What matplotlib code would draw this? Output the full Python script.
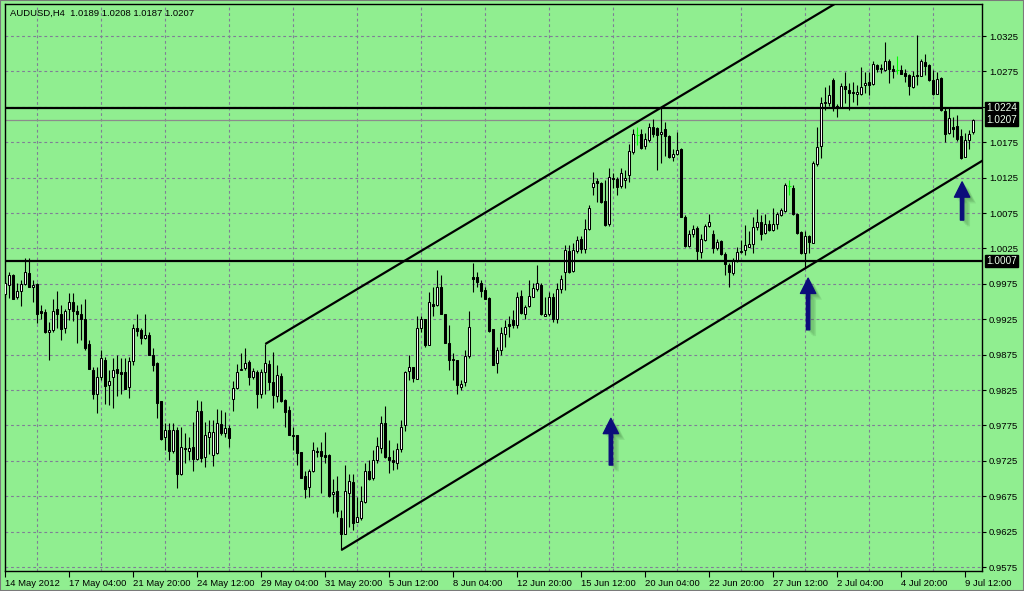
import matplotlib
matplotlib.use("Agg")
import matplotlib.pyplot as plt
import matplotlib.transforms as mtransforms
import matplotlib.patheffects as pe
import numpy as np

# ---------------------------------------------------------
# Data: AUDUSD H4 candles, 14 May 2012 -> 9 Jul 2012
# ---------------------------------------------------------
opens = [
    0.9960, 0.9974, 0.9987, 0.9957, 0.9965, 0.9975, 0.9990, 0.9970, 0.9975, 0.9936,
    0.9935, 0.9907, 0.9910, 0.9939, 0.9933, 0.9912, 0.9939, 0.9950, 0.9937, 0.9933,
    0.9926, 0.9890, 0.9853, 0.9820, 0.9843, 0.9868, 0.9832, 0.9843, 0.9854, 0.9850,
    0.9850, 0.9829, 0.9866, 0.9912, 0.9910, 0.9899, 0.9903, 0.9874, 0.9863, 0.9809,
    0.9758, 0.9769, 0.9739, 0.9768, 0.9707, 0.9743, 0.9739, 0.9744, 0.9727, 0.9795,
    0.9730, 0.9759, 0.9733, 0.9736, 0.9777, 0.9764, 0.9771, 0.9813, 0.9828, 0.9853,
    0.9856, 0.9865, 0.9843, 0.9850, 0.9819, 0.9851, 0.9862, 0.9836, 0.9817, 0.9845,
    0.9811, 0.9797, 0.9761, 0.9761, 0.9738, 0.9703, 0.9688, 0.9711, 0.9739, 0.9739,
    0.9733, 0.9733, 0.9678, 0.9683, 0.9644, 0.9621, 0.9680, 0.9695, 0.9638, 0.9644,
    0.9667, 0.9710, 0.9701, 0.9726, 0.9743, 0.9778, 0.9731, 0.9726, 0.9722, 0.9742,
    0.9775, 0.9852, 0.9857, 0.9841, 0.9913, 0.9925, 0.9889, 0.9946, 0.9945, 0.9970,
    0.9932, 0.9892, 0.9869, 0.9867, 0.9829, 0.9836, 0.9873, 0.9984, 0.9984, 0.9976,
    0.9966, 0.9955, 0.9911, 0.9863, 0.9882, 0.9904, 0.9918, 0.9924, 0.9917, 0.9958,
    0.9933, 0.9943, 0.9957, 0.9967, 0.9974, 0.9930, 0.9933, 0.9956, 0.9925, 0.9967,
    0.9992, 1.0022, 0.9993, 1.0022, 1.0038, 1.0024, 1.0052, 1.0112, 1.0120, 1.0117,
    1.0092, 1.0059, 1.0125, 1.0123, 1.0113, 1.0122, 1.0129, 1.0161, 1.0185, 1.0186,
    1.0169, 1.0178, 1.0197, 1.0195, 1.0186, 1.0193, 1.0184, 1.0154, 1.0159, 1.0165,
    1.0070, 1.0029, 1.0046, 1.0054, 1.0020, 1.0037, 1.0056, 1.0045, 1.0025, 1.0035,
    1.0017, 1.0001, 0.9990, 1.0009, 1.0020, 1.0023, 1.0027, 1.0031, 1.0055, 1.0062,
    1.0047, 1.0060, 1.0051, 1.0060, 1.0072, 1.0078, 1.0113, 1.0111, 1.0073, 1.0048,
    1.0019, 1.0042, 1.0033, 1.0144, 1.0169, 1.0231, 1.0231, 1.0263, 1.0226, 1.0224,
    1.0254, 1.0249, 1.0246, 1.0243, 1.0243, 1.0256, 1.0260, 1.0257, 1.0284, 1.0280,
    1.0277, 1.0290, 1.0278, 1.0277, 1.0277, 1.0273, 1.0270, 1.0253, 1.0270, 1.0269,
    1.0288, 1.0284, 1.0263, 1.0243, 1.0265, 1.0219, 1.0188, 1.0197, 1.0198, 1.0184,
    1.0154, 1.0178, 1.0189,
]
highs = [
    0.9986, 0.9991, 0.9989, 0.9976, 0.9980, 1.0012, 1.0011, 0.9980, 0.9976, 0.9945,
    0.9940, 0.9921, 0.9954, 0.9965, 0.9945, 0.9940, 0.9962, 0.9962, 0.9945, 0.9947,
    0.9954, 0.9896, 0.9858, 0.9858, 0.9882, 0.9872, 0.9853, 0.9870, 0.9875, 0.9870,
    0.9870, 0.9871, 0.9918, 0.9933, 0.9912, 0.9933, 0.9907, 0.9884, 0.9865, 0.9809,
    0.9778, 0.9778, 0.9778, 0.9773, 0.9773, 0.9764, 0.9759, 0.9780, 0.9811, 0.9809,
    0.9780, 0.9783, 0.9783, 0.9798, 0.9797, 0.9794, 0.9776, 0.9838, 0.9862, 0.9877,
    0.9885, 0.9867, 0.9856, 0.9853, 0.9855, 0.9890, 0.9867, 0.9878, 0.9860, 0.9849,
    0.9813, 0.9802, 0.9773, 0.9762, 0.9738, 0.9710, 0.9714, 0.9752, 0.9745, 0.9751,
    0.9766, 0.9734, 0.9700, 0.9703, 0.9656, 0.9719, 0.9707, 0.9707, 0.9674, 0.9689,
    0.9722, 0.9726, 0.9740, 0.9759, 0.9788, 0.9802, 0.9754, 0.9740, 0.9750, 0.9783,
    0.9852, 0.9874, 0.9858, 0.9929, 0.9929, 0.9926, 0.9964, 0.9971, 0.9994, 0.9987,
    0.9933, 0.9917, 0.9877, 0.9867, 0.9839, 0.9881, 0.9937, 1.0004, 0.9992, 0.9980,
    0.9971, 0.9957, 0.9911, 0.9886, 0.9914, 0.9924, 0.9929, 0.9938, 0.9964, 0.9966,
    0.9945, 0.9980, 0.9976, 1.0002, 0.9976, 0.9957, 0.9964, 0.9962, 0.9976, 0.9987,
    1.0030, 1.0030, 1.0032, 1.0042, 1.0042, 1.0067, 1.0086, 1.0133, 1.0124, 1.0119,
    1.0122, 1.0138, 1.0131, 1.0126, 1.0138, 1.0136, 1.0173, 1.0194, 1.0197, 1.0193,
    1.0188, 1.0202, 1.0208, 1.0197, 1.0224, 1.0203, 1.0185, 1.0166, 1.0190, 1.0167,
    1.0072, 1.0051, 1.0058, 1.0056, 1.0046, 1.0060, 1.0074, 1.0051, 1.0038, 1.0037,
    1.0020, 1.0004, 1.0011, 1.0027, 1.0037, 1.0058, 1.0049, 1.0069, 1.0081, 1.0072,
    1.0073, 1.0065, 1.0082, 1.0077, 1.0082, 1.0117, 1.0122, 1.0115, 1.0075, 1.0049,
    1.0049, 1.0044, 1.0148, 1.0197, 1.0239, 1.0253, 1.0256, 1.0265, 1.0229, 1.0258,
    1.0274, 1.0258, 1.0260, 1.0256, 1.0281, 1.0274, 1.0274, 1.0289, 1.0286, 1.0286,
    1.0317, 1.0293, 1.0284, 1.0297, 1.0284, 1.0279, 1.0272, 1.0275, 1.0326, 1.0293,
    1.0300, 1.0286, 1.0277, 1.0274, 1.0267, 1.0223, 1.0225, 1.0211, 1.0213, 1.0194,
    1.0188, 1.0192, 1.0208,
]
lows = [
    0.9957, 0.9955, 0.9953, 0.9954, 0.9943, 0.9974, 0.9970, 0.9950, 0.9919, 0.9926,
    0.9905, 0.9868, 0.9907, 0.9912, 0.9896, 0.9905, 0.9924, 0.9922, 0.9892, 0.9896,
    0.9881, 0.9854, 0.9812, 0.9793, 0.9839, 0.9805, 0.9804, 0.9800, 0.9817, 0.9819,
    0.9827, 0.9814, 0.9860, 0.9902, 0.9890, 0.9897, 0.9874, 0.9852, 0.9786, 0.9754,
    0.9740, 0.9726, 0.9736, 0.9687, 0.9705, 0.9722, 0.9726, 0.9710, 0.9726, 0.9724,
    0.9716, 0.9734, 0.9717, 0.9734, 0.9761, 0.9759, 0.9744, 0.9796, 0.9827, 0.9853,
    0.9853, 0.9832, 0.9840, 0.9800, 0.9814, 0.9820, 0.9825, 0.9799, 0.9808, 0.9808,
    0.9773, 0.9761, 0.9740, 0.9719, 0.9701, 0.9672, 0.9674, 0.9709, 0.9731, 0.9680,
    0.9722, 0.9674, 0.9651, 0.9645, 0.9599, 0.9621, 0.9632, 0.9627, 0.9638, 0.9641,
    0.9665, 0.9698, 0.9698, 0.9722, 0.9736, 0.9729, 0.9708, 0.9712, 0.9714, 0.9738,
    0.9767, 0.9839, 0.9837, 0.9841, 0.9907, 0.9886, 0.9889, 0.9929, 0.9944, 0.9933,
    0.9891, 0.9853, 0.9839, 0.9819, 0.9825, 0.9830, 0.9870, 0.9964, 0.9971, 0.9957,
    0.9953, 0.9907, 0.9861, 0.9849, 0.9874, 0.9886, 0.9900, 0.9912, 0.9912, 0.9933,
    0.9926, 0.9942, 0.9957, 0.9965, 0.9931, 0.9929, 0.9929, 0.9921, 0.9919, 0.9962,
    0.9966, 0.9990, 0.9991, 1.0019, 1.0019, 1.0019, 1.0051, 1.0100, 1.0091, 1.0089,
    1.0056, 1.0056, 1.0110, 1.0100, 1.0111, 1.0110, 1.0119, 1.0159, 1.0171, 1.0166,
    1.0166, 1.0176, 1.0183, 1.0136, 1.0145, 1.0155, 1.0152, 1.0148, 1.0157, 1.0069,
    1.0027, 1.0027, 1.0041, 1.0007, 1.0011, 1.0036, 1.0055, 1.0018, 1.0023, 1.0016,
    0.9987, 0.9971, 0.9987, 1.0006, 1.0018, 1.0016, 1.0027, 1.0018, 1.0051, 1.0037,
    1.0046, 1.0049, 1.0049, 1.0053, 1.0071, 1.0077, 1.0100, 1.0072, 1.0046, 1.0017,
    0.9997, 1.0018, 1.0032, 1.0142, 1.0153, 1.0220, 1.0226, 1.0219, 1.0210, 1.0223,
    1.0230, 1.0221, 1.0232, 1.0227, 1.0242, 1.0244, 1.0242, 1.0256, 1.0274, 1.0273,
    1.0275, 1.0258, 1.0265, 1.0272, 1.0271, 1.0260, 1.0242, 1.0252, 1.0256, 1.0268,
    1.0270, 1.0262, 1.0242, 1.0243, 1.0219, 1.0176, 1.0186, 1.0182, 1.0177, 1.0151,
    1.0154, 1.0165, 1.0187,
]
closes = [
    0.9976, 0.9988, 0.9954, 0.9965, 0.9975, 0.9991, 0.9970, 0.9974, 0.9932, 0.9934,
    0.9907, 0.9910, 0.9937, 0.9932, 0.9911, 0.9937, 0.9949, 0.9937, 0.9932, 0.9926,
    0.9885, 0.9854, 0.9819, 0.9844, 0.9870, 0.9831, 0.9838, 0.9853, 0.9849, 0.9848,
    0.9827, 0.9866, 0.9913, 0.9908, 0.9899, 0.9903, 0.9875, 0.9861, 0.9807, 0.9756,
    0.9769, 0.9739, 0.9769, 0.9706, 0.9744, 0.9742, 0.9743, 0.9728, 0.9796, 0.9729,
    0.9761, 0.9766, 0.9766, 0.9778, 0.9765, 0.9772, 0.9757, 0.9828, 0.9851, 0.9855,
    0.9863, 0.9844, 0.9852, 0.9820, 0.9850, 0.9863, 0.9837, 0.9818, 0.9846, 0.9810,
    0.9794, 0.9761, 0.9760, 0.9736, 0.9701, 0.9685, 0.9711, 0.9740, 0.9737, 0.9732,
    0.9731, 0.9676, 0.9681, 0.9654, 0.9622, 0.9683, 0.9696, 0.9637, 0.9646, 0.9668,
    0.9710, 0.9700, 0.9726, 0.9746, 0.9778, 0.9730, 0.9726, 0.9723, 0.9742, 0.9773,
    0.9850, 0.9857, 0.9842, 0.9912, 0.9926, 0.9889, 0.9949, 0.9944, 0.9970, 0.9933,
    0.9892, 0.9868, 0.9867, 0.9832, 0.9834, 0.9873, 0.9914, 0.9982, 0.9977, 0.9965,
    0.9954, 0.9908, 0.9861, 0.9882, 0.9905, 0.9914, 0.9916, 0.9917, 0.9956, 0.9934,
    0.9942, 0.9958, 0.9969, 0.9976, 0.9932, 0.9933, 0.9957, 0.9926, 0.9967, 0.9982,
    1.0023, 0.9992, 1.0023, 1.0037, 1.0024, 1.0052, 1.0082, 1.0118, 1.0118, 1.0090,
    1.0058, 1.0126, 1.0123, 1.0112, 1.0132, 1.0124, 1.0162, 1.0186, 1.0185, 1.0167,
    1.0179, 1.0196, 1.0186, 1.0185, 1.0190, 1.0184, 1.0154, 1.0158, 1.0164, 1.0069,
    1.0029, 1.0045, 1.0052, 1.0021, 1.0038, 1.0056, 1.0062, 1.0025, 1.0034, 1.0017,
    1.0003, 0.9991, 1.0009, 1.0020, 1.0022, 1.0030, 1.0031, 1.0055, 1.0063, 1.0045,
    1.0060, 1.0051, 1.0059, 1.0073, 1.0079, 1.0115, 1.0113, 1.0073, 1.0047, 1.0018,
    1.0042, 1.0034, 1.0145, 1.0168, 1.0231, 1.0232, 1.0242, 1.0225, 1.0224, 1.0254,
    1.0250, 1.0245, 1.0244, 1.0246, 1.0253, 1.0259, 1.0256, 1.0285, 1.0279, 1.0278,
    1.0289, 1.0278, 1.0276, 1.0277, 1.0272, 1.0268, 1.0254, 1.0269, 1.0268, 1.0289,
    1.0283, 1.0263, 1.0243, 1.0264, 1.0220, 1.0187, 1.0209, 1.0194, 1.0180, 1.0152,
    1.0178, 1.0186, 1.0207,
]
# doji candles (open == close) drawn in lime like the terminal does
doji_idx = [158, 196, 223]

time_labels = ["14 May 2012", "17 May 04:00", "21 May 20:00", "24 May 12:00",
               "29 May 04:00", "31 May 20:00", "5 Jun 12:00", "8 Jun 04:00",
               "12 Jun 20:00", "15 Jun 12:00", "20 Jun 04:00", "22 Jun 20:00",
               "27 Jun 12:00", "2 Jul 04:00", "4 Jul 20:00", "9 Jul 12:00"]
label_step = 16

price_ticks = [0.9575, 0.9625, 0.9675, 0.9725, 0.9775, 0.9825, 0.9875, 0.9925,
               0.9975, 1.0025, 1.0075, 1.0125, 1.0175, 1.0225, 1.0275, 1.0325]

support_level = 1.0007
resist_level = 1.0224

# channel anchors: (candle index, price)
upper_anchor = [(65, 0.9890), (164, 1.0224)]
lower_anchor = [(84, 0.9599), (200, 0.9997)]

# arrows: candle index, tail price, tip price
arrow_x = [151.4, 200.7, 239.2]
arrow_tail = [0.9719, 0.9910, 1.0065]
arrow_tip = [0.9785, 0.9983, 1.0119]

# ---------------------------------------------------------
# Figure setup
# ---------------------------------------------------------
BG = "#90ee90"
GRID = "#7f7f96"
FONT = "Liberation Sans"
FS = 6.8

fig = plt.figure(figsize=(10.24, 5.91), dpi=100, facecolor=BG)
W, H = 1024, 591
ax = fig.add_axes([5 / W, (H - 571) / H, 977 / W, 567 / H], facecolor=BG)

n = len(opens)
idx = np.arange(n)
o = np.array(opens)
c = np.array(closes)
h = np.array(highs)
l = np.array(lows)

# ---------------------------------------------------------
# Candles
# ---------------------------------------------------------
normal = np.array([i not in doji_idx for i in idx])
ax.vlines(idx[normal], l[normal], h[normal], color="black", lw=0.8, zorder=3)

up = (c >= o) & normal
dn = (c < o) & normal
ax.bar(idx[up], c[up] - o[up], bottom=o[up], width=0.5,
       facecolor="white", edgecolor="black", lw=0.75, zorder=4)
ax.bar(idx[dn], o[dn] - c[dn], bottom=c[dn], width=0.5,
       facecolor="black", edgecolor="black", lw=0.75, zorder=4)

for i in doji_idx:
    ax.vlines(i, lows[i], highs[i], color="#00ff00", lw=0.8, zorder=4)
    ax.hlines(opens[i], i - 0.4, i + 0.4, color="#00ff00", lw=0.8, zorder=4)

# ---------------------------------------------------------
# Levels and channel
# ---------------------------------------------------------
ax.axhline(resist_level, color="black", lw=1.6, zorder=5)
ax.axhline(support_level, color="black", lw=1.6, zorder=5)
ax.axhline(closes[-1], color="#8c8c8c", lw=0.9, zorder=2)

x_end = n + 2
for (x0, y0), (x1, y1) in [upper_anchor, lower_anchor]:
    slope = (y1 - y0) / (x1 - x0)
    ax.plot([x0, x_end], [y0, y0 + slope * (x_end - x0)],
            color="black", lw=1.6, zorder=5, solid_capstyle="butt")

# ---------------------------------------------------------
# Arrows (soft shadow faked with a few offset copies)
# ---------------------------------------------------------
shadow = [pe.SimplePatchShadow(offset=(d, -d), shadow_rgbFace="#2e5e2e", alpha=0.12)
          for d in (1.5, 2.5, 3.5, 4.5)]
for xa, yt, yh in zip(arrow_x, arrow_tail, arrow_tip):
    ann = ax.annotate("", xy=(xa, yh), xytext=(xa, yt),
                      arrowprops=dict(arrowstyle="simple,head_width=1.0,head_length=1.0,tail_width=0.22",
                                      mutation_scale=11, color="#0c0c7a",
                                      shrinkA=0, shrinkB=0), zorder=6)
    ann.arrow_patch.set_path_effects(shadow + [pe.Normal()])

# ---------------------------------------------------------
# Axes, grid, labels
# ---------------------------------------------------------
ax.set_xlim(-0.075, 244.175)
ax.set_ylim(0.95694, 1.03702)

# the 1.0225 scale label sits under the 1.0224 level box, as on the terminal
ax.yaxis.tick_right()
ax.set_yticks(price_ticks)
ax.set_yticklabels(["" if abs(p - resist_level) < 0.0005 else f"{p:.4f}" for p in price_ticks],
                   fontsize=FS, family=FONT)
ax.tick_params(axis="y", direction="out", length=3, width=0.8, pad=2, colors="black")

label_pos = [k * label_step for k in range(len(time_labels))]
ax.set_xticks(label_pos)
ax.set_xticklabels(time_labels, fontsize=FS, family=FONT, ha="left")
ax.set_xticks(np.arange(0, 245, 8), minor=True)
ax.tick_params(axis="x", which="major", direction="out", length=4, width=0.8, pad=2)
ax.tick_params(axis="x", which="minor", length=0)

ax.grid(True, axis="y", which="major", color=GRID, ls=(0, (2.5, 2.5)), lw=0.8, zorder=1)
ax.grid(True, axis="x", which="minor", color=GRID, ls=(0, (2.5, 2.5)), lw=0.8, zorder=1)
ax.set_axisbelow(True)

for s in ax.spines.values():
    s.set_color("black")
    s.set_linewidth(1.0)

# highlighted price labels on the right scale
trans = mtransforms.blended_transform_factory(ax.transAxes, ax.transData)
for val in [resist_level, closes[-1], support_level]:
    ax.text(1.0045, val, f"{val:.4f}", transform=trans, ha="left", va="center",
            fontsize=7.2, family=FONT, color="#eaffea", zorder=10, clip_on=False,
            bbox=dict(boxstyle="square,pad=0.1", fc="black", ec="black"))

# header text
fig.text(10 / W, 1 - 13 / H,
         f"AUDUSD,H4  {opens[-1]:.4f} {highs[-1]:.4f} {lows[-1]:.4f} {closes[-1]:.4f}",
         fontsize=FS, family=FONT, color="black", va="center", ha="left")

# thin window border
fig.patches.append(plt.Rectangle((0, 0), 1, 1, transform=fig.transFigure,
                                 fill=False, ec="#7a7a7a", lw=1.5))

fig.savefig("out.png", dpi=100, facecolor=BG)
